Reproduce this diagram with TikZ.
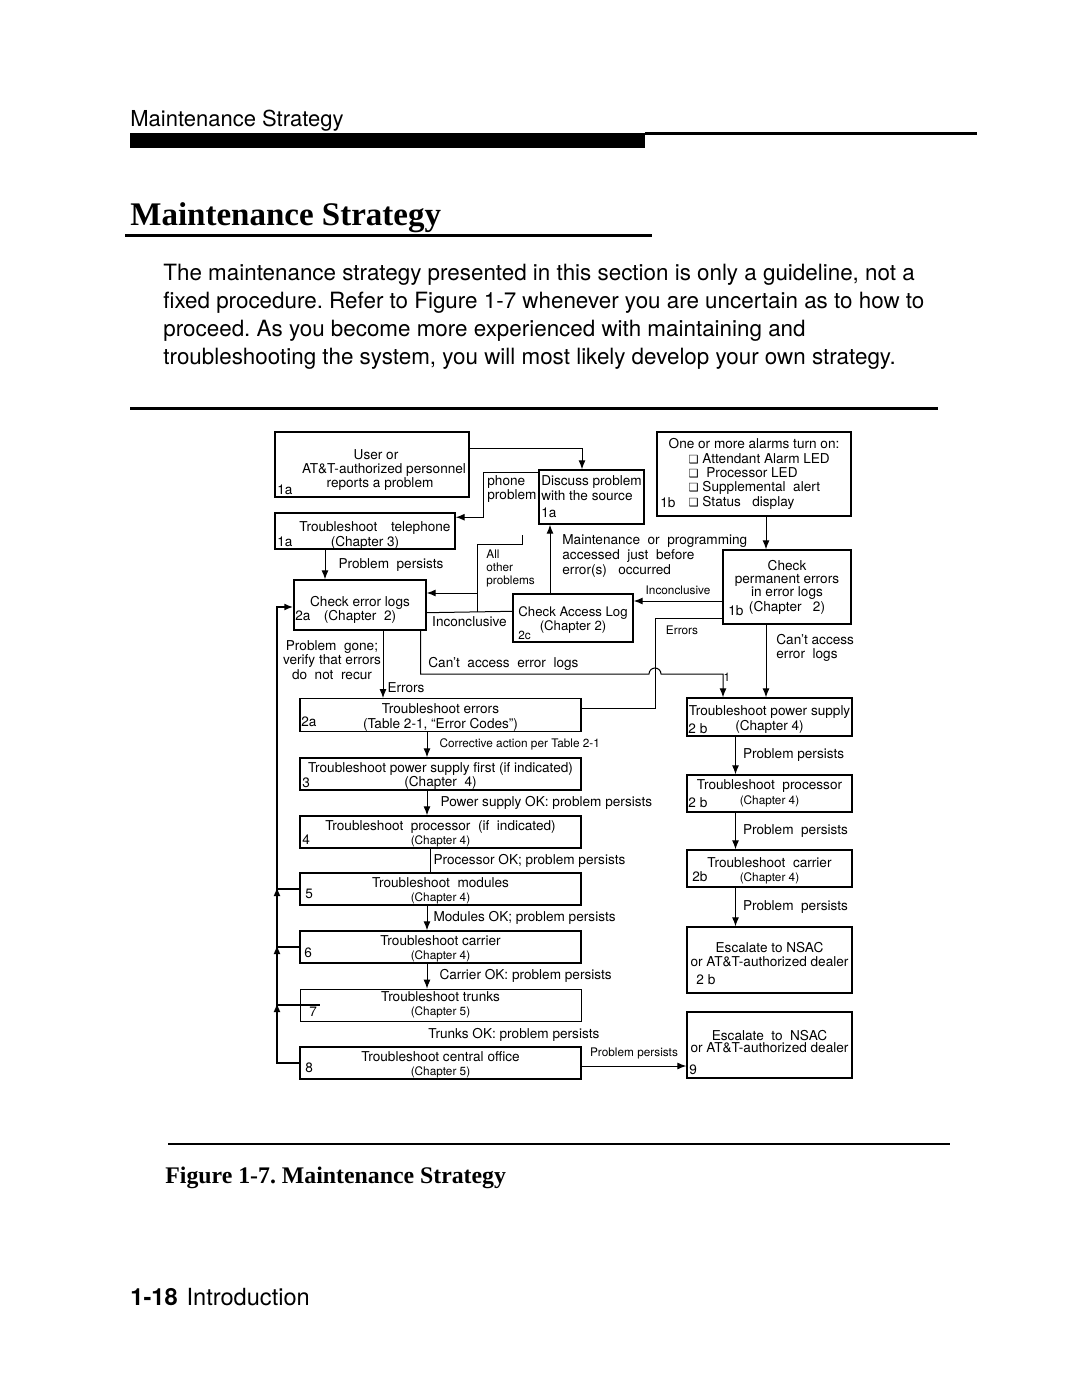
\documentclass[tikz,border=0pt]{standalone}
\usepackage{fontspec}
\setmainfont{TeX Gyre Heros}
\newfontfamily\headfont{Liberation Serif}
\newfontfamily\symfont{DejaVu Sans}
\usetikzlibrary{arrows.meta,calc,positioning}

\newcommand{\fc}{\fontsize{6.8}{7.2}\selectfont}
\newcommand{\fcs}{\fontsize{5.9}{6.5}\selectfont}
\newcommand{\chk}{{\symfont\fontsize{5.6}{6}\selectfont ❑}}
\newcommand{\gap}[1]{\rule{0pt}{#1}}

\tikzset{
  box/.style={draw, line width=0.7pt, inner sep=0pt, align=center, font=\fc},
  num/.style={inner sep=0pt, font=\fc},
  lbl/.style={inner sep=0pt, font=\fc, align=left},
  slbl/.style={inner sep=0pt, font=\fcs, align=left},
  flow/.style={line width=0.5pt},
  loopline/.style={line width=1.2pt},
  >={Latex[length=4.5pt,width=3.5pt]}
}

\begin{document}
\frenchspacing
\begin{tikzpicture}[x=0.5pt,y=-0.5pt]
  \useasboundingbox (0,0) rectangle (1080,1395);

  % Page header
  \node[anchor=base west, inner sep=0, font=\fontsize{11}{13}\selectfont] (hdr) at (130,127) {Maintenance Strategy};
  \fill (130,133) rectangle (645,148);
  \draw[line width=1.5pt] (645,134) -- (977,134);

  % Title and text
  \node[anchor=base west, inner sep=0, font=\headfont\bfseries\fontsize{16.5}{18}\selectfont] (title) at (130,226) {Maintenance Strategy};
  \draw[line width=1.5pt] (125,236) -- (652,236);
  \node[anchor=north west, inner sep=0, align=left, font=\fontsize{11.2}{14}\selectfont] (para) at (163,264)
    {The maintenance strategy presented in this section is only a guideline, not a\\
     fixed procedure. Refer to Figure 1-7 whenever you are uncertain as to how to\\
     proceed. As you become more experienced with maintaining and\\
     troubleshooting the system, you will most likely develop your own strategy.};
  \draw[line width=1.5pt] (130,409) -- (938,409);

  % Nodes
  \node[box, minimum width=97pt, minimum height=32.5pt] (user) at (372,464.5) {\gap{10.4pt}\hspace*{4pt}User or\\\hspace*{12pt}AT\&T-authorized personnel\\\hspace*{8pt}reports a problem};
  \node[box, minimum width=52.5pt, minimum height=27pt, align=left] (discuss) at (591.5,497) {Discuss problem\\with the source\\[1.5pt]1a};
  \node[box, minimum width=97pt, minimum height=42pt, align=left] (alarms) at (754,474)
    {One or more alarms turn on:\\
     \hspace*{10pt}\chk\ Attendant Alarm LED\\
     \hspace*{10pt}\chk\ \ Processor LED\\
     \hspace*{10pt}\chk\ Supplemental\ \ alert\\
     \hspace*{10pt}\chk\ Status\ \ \ display};
  \node[box, minimum width=90pt, minimum height=18pt] (tele) at (365,531) {\gap{9.4pt}\hspace*{10pt}Troubleshoot\quad telephone\\(Chapter 3)};
  \node[box, minimum width=66pt, minimum height=25pt] (celog) at (360,605) {\gap{10pt}Check error logs\\(Chapter\ \ 2)};
  \node[box, minimum width=60pt, minimum height=24pt, font=\fontsize{6.6}{6.3}\selectfont] (access) at (573,618) {\gap{7pt}Check Access Log\\(Chapter 2)};
  \node[box, minimum width=64pt, minimum height=37pt, font=\fontsize{6.8}{6.5}\selectfont] (permerr) at (787,587) {Check\\permanent errors\\in error logs\\(Chapter\ \ \ 2)};

  \node[box, minimum width=140.5pt, minimum height=16pt] (terr) at (440.5,715) {\gap{7.6pt}Troubleshoot errors\\(Table 2-1, “Error Codes”)};
  \node[box, minimum width=140.5pt, minimum height=16pt] (tpsf) at (440.5,774) {\gap{7pt}Troubleshoot power supply first (if indicated)\\(Chapter\ \ 4)};
  \node[box, minimum width=140.5pt, minimum height=16pt] (tproc) at (440.5,832) {\gap{6.5pt}Troubleshoot\ \ processor\ \ (if\ \ indicated)\\{\fcs(Chapter 4)}};
  \node[box, minimum width=140.5pt, minimum height=16pt] (tmod) at (440.5,889) {\gap{7pt}Troubleshoot\ \ modules\\{\fcs(Chapter 4)}};
  \node[box, minimum width=140.5pt, minimum height=16pt] (tcar) at (440.5,947) {\gap{6.5pt}Troubleshoot carrier\\{\fcs(Chapter 4)}};
  \node[box, minimum width=140.5pt, minimum height=16pt, line width=0.4pt] (ttrk) at (440.5,1005) {Troubleshoot trunks\\{\fcs(Chapter 5)}};
  \node[box, minimum width=140.5pt, minimum height=16pt] (tco) at (440.5,1063) {\gap{6.5pt}Troubleshoot central office\\{\fcs(Chapter 5)}};

  \node[box, minimum width=82.5pt, minimum height=19pt] (tps2) at (769.5,717) {\gap{7.4pt}Troubleshoot power supply\\(Chapter 4)};
  \node[box, minimum width=82.5pt, minimum height=18.5pt] (tproc2) at (769.5,793.5) {Troubleshoot\ \ processor\\{\fcs(Chapter 4)}};
  \node[box, minimum width=82.5pt, minimum height=18.5pt] (tcar2) at (769.5,868.5) {\gap{7pt}Troubleshoot\ \ carrier\\{\fcs(Chapter 4)}};
  \node[box, minimum width=82.5pt, minimum height=33pt] (esc1) at (769.5,960) {Escalate to NSAC\\or AT\&T-authorized dealer\\[-3.5pt]\strut};
  \node[box, minimum width=82.5pt, minimum height=33pt] (esc2) at (769.5,1045) {Escalate\ \ to\ \ NSAC\\[-1pt]or AT\&T-authorized dealer\\[-6pt]\strut};

  % Step numbers
  \node[num, anchor=base west] (userNum) at (277,494) {1a};
  \node[num, anchor=base west] (teleNum) at (277,546) {1a};
  \node[num, anchor=base west] (alarmsNum) at (660,507) {1b};
  \node[num, anchor=base west] (celogNum) at (295,620) {2a};
  \node[num, anchor=base west, font=\fcs] (accessNum) at (518,639) {2c};
  \node[num, anchor=base west] (permerrNum) at (728,615) {1b};
  \node[num, anchor=base west] (terrNum) at (301,726) {2a};
  \node[num, anchor=base west] (tpsfNum) at (302,787) {3};
  \node[num, anchor=base west] (tprocNum) at (302,844) {4};
  \node[num, anchor=base west] (tmodNum) at (305,898) {5};
  \node[num, anchor=base west] (tcarNum) at (304,957) {6};
  \node[num, anchor=base west] (ttrkNum) at (309,1016) {7};
  \node[num, anchor=base west] (tcoNum) at (305,1072) {8};
  \node[num, anchor=base west] (tps2Num) at (688,733) {2 b};
  \node[num, anchor=base west] (tproc2Num) at (688,807) {2 b};
  \node[num, anchor=base west] (tcar2Num) at (692,881) {2b};
  \node[num, anchor=base west] (esc1Num) at (696,984) {2 b};
  \node[num, anchor=base west] (esc2Num) at (689,1074) {9};

  % Arrows, top part
  \draw[flow,->] ($(user.north east)+(0,17)$) -| ($(discuss.north)+(-9.5,0)$);
  \draw[flow,->] ($(discuss.north west)+(0,3)$) -- ++(-55,0) |- ($(tele.north east)+(0,5)$);
  \node[lbl, anchor=west] (lPhone) at (487,489) {phone\\problem};
  \draw[flow,->] ($(tele.south)+(-40,0)$) -- ($(celog.north)+(-35,0)$) node[lbl, midway, right=6.5pt] (lPers1) {Problem\ \ persists};
  \draw[flow] ($(celog.south east)+(0,-18)$) -- ($(access.north west)+(0,18)$) node[lbl, midway, below=2pt] (lInc1) {Inconclusive};

  \coordinate (allTop) at (522,535);
  \coordinate (allTurn) at (477,544);
  \coordinate (allFoot) at (477,612);
  \coordinate (otherIn) at (477,593);
  \draw[flow] (allTop) |- (allTurn) -- (allFoot);
  \draw[flow,->] (otherIn) -- (celog.east |- otherIn);
  \node[slbl, anchor=west] (lAll) at (486,568) {All\\other\\problems};

  \draw[flow,->] ($(access.north)+(-23,0)$) -- ($(discuss.south)+(-41.5,0)$);
  \node[lbl, anchor=west, font=\fontsize{6.8}{7.5}\selectfont] (lMaint) at (562,556) {Maintenance\ \ or\ \ programming\\accessed\ \ just\ \ before\\error(s)\ \ \ occurred};

  \draw[flow,->] ($(alarms.south)+(12,0)$) -- ($(permerr.north)+(-21,0)$);
  \draw[flow,->] ($(permerr.west)+(0,14)$) coordinate (incRight) -- (access.east |- incRight) node[slbl, midway, above=3pt] (lInc2) {Inconclusive};

  \coordinate (errCorner) at (655,708);
  \draw[flow] ($(permerr.south west)+(0,-6)$) -| (errCorner) -- (terr.east |- errCorner);
  \node[slbl] (lErr2) at (682,630) {Errors};

  \coordinate (hopL) at (649,674);
  \draw[flow,->] ($(celog.south east)+(-6,0)$) |- (hopL) arc[start angle=180, end angle=360, radius=6] -| ($(tps2.north)+(-46.5,0)$);
  \node[lbl, anchor=west] (lCant1) at (428,664) {Can’t\ \ access\ \ error\ \ logs};
  \node[slbl] (lOne) at (727,677) {1};

  \draw[flow,->] ($(permerr.south)+(-21,0)$) -- ($(tps2.north)+(-3.5,0)$);
  \node[lbl, anchor=north west] (lCant2) at (776,634) {Can’t access\\error\ \ logs};

  \draw[flow,->] ($(celog.south)+(23,0)$) -- ($(terr.north)+(-57.5,0)$) node[lbl, pos=0.85, right=2pt] (lErr1) {Errors};

  % Feedback loop
  \coordinate (loopTop) at (277,607);
  \draw[loopline,->] (tco.west) -| (loopTop) -- (celog.west |- loopTop);
  \draw[loopline] (tmod.west) -- (tmod.west -| loopTop);
  \draw[loopline] (tcar.west) -- (tcar.west -| loopTop);
  \draw[line width=0.6pt] ($(ttrk.west)+(20,0)$) -- (ttrk.west -| loopTop);
  \foreach \b in {tmod,tcar,ttrk}
    \draw[loopline,->] ($(\b.west -| loopTop)+(0,8)$) -- ++(0,-10);
  \node[lbl, align=center] (lGone) at (332,660) {Problem\ \ gone;\\verify that errors\\do\ \ not\ \ recur};

  % Arrows, left column
  \draw[flow,->] ($(terr.south)+(-13.5,0)$) -- ($(tpsf.north)+(-13.5,0)$) node[slbl, midway, right=6pt] (lCorr) {Corrective action per Table 2-1};
  \draw[flow,->] ($(tpsf.south)+(-13.5,0)$) -- ($(tproc.north)+(-13.5,0)$) node[lbl, midway, right=6.5pt] (lPsOk) {Power supply OK: problem persists};
  \draw[flow] ($(tproc.south)+(-10.5,0)$) -- ($(tmod.north)+(-10.5,0)$) node[lbl, midway, right=1.5pt] (lProcOk) {Processor OK; problem persists};
  \draw[flow,->] ($(tmod.south)+(-13.5,0)$) -- ($(tcar.north)+(-13.5,0)$) node[lbl, midway, right=3pt] (lModOk) {Modules OK; problem persists};
  \draw[flow,->] ($(tcar.south)+(-13.5,0)$) -- ($(ttrk.north)+(-13.5,0)$) node[lbl, midway, right=6pt] (lCarOk) {Carrier OK: problem persists};
  \node[lbl, anchor=west] (lTrkOk) at (428,1035) {Trunks OK: problem persists};
  \draw[flow,->] ($(tco.east)+(0,3)$) -- ($(esc2.west)+(0,21)$) node[slbl, midway, above=3pt] (lPers5) {Problem persists};

  % Arrows, right column
  \draw[flow,->] ($(tps2.south)+(-34,0)$) -- ($(tproc2.north)+(-34,0)$) node[lbl, midway, right=3.5pt] (lPers2) {Problem persists};
  \draw[flow,->] ($(tproc2.south)+(-34,0)$) -- ($(tcar2.north)+(-34,0)$) node[lbl, midway, right=3.5pt] (lPers3) {Problem\ \ persists};
  \draw[flow,->] ($(tcar2.south)+(-34,0)$) -- ($(esc1.north)+(-34,0)$) node[lbl, midway, right=3.5pt] (lPers4) {Problem\ \ persists};

  % Caption and footer
  \draw[line width=0.8pt] (168,1144) -- (950,1144);
  \node[anchor=base west, inner sep=0, font=\headfont\bfseries\fontsize{11.9}{14}\selectfont] (caption) at (165,1183) {Figure 1-7. Maintenance Strategy};
  \node[anchor=base west, inner sep=0, font=\fontsize{11.8}{14}\selectfont] (footer) at (130,1305) {\textbf{1-18}\hspace{4.5pt}Introduction};
\end{tikzpicture}
\end{document}
